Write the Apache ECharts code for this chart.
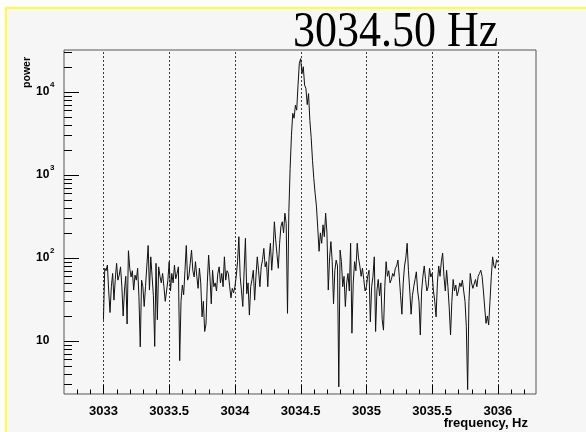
<!DOCTYPE html>
<html>
<head>
<meta charset="utf-8">
<script src="https://cdn.jsdelivr.net/npm/echarts@6/dist/echarts.min.js"></script>
<style>
  html, body { margin: 0; padding: 0; background: #ffffff; }
  #chart { width: 586px; height: 432px; }
</style>
</head>
<body>
<div id="chart"></div>
<script>
// Spectrum bins: first bin frequency and bin width (Hz)
const freqStart = 3033.0;
const freqStep = 0.01;

// Power per bin, 3033.00 .. 3036.00 Hz
const power = [
  18, 75, 70, 82, 40, 22, 45, 65, 31, 55,
  86, 54, 62, 78, 45, 20, 41, 60, 16, 122,
  75, 59, 70, 41, 62, 54, 75, 34, 8.5, 54,
  45, 26, 45, 80, 141, 41, 103, 60, 35, 8.6,
  86, 18, 78, 60, 50, 65, 45, 30, 40, 54,
  90, 40, 65, 50, 82, 56, 65, 78, 5.8, 30,
  47, 36, 70, 141, 54, 60, 86, 124, 70, 59,
  90, 60, 43, 75, 50, 19.5, 30, 13, 16, 50,
  108, 60, 28, 71, 45, 50, 40, 65, 78, 50,
  65, 45, 103, 54, 70, 65, 45, 33, 43, 38,
  45, 60, 90, 180, 60, 40, 26, 70, 172, 37,
  50, 20.5, 45, 55, 71, 31, 60, 103, 70, 45,
  78, 95, 130, 78, 90, 45, 100, 150, 71, 120,
  272, 165, 110, 75, 150, 240, 272, 200, 345, 260,
  21.5, 350, 1200, 3000, 5500, 4800, 6900, 6000, 12000, 22000,
  25000, 16500, 20000, 12000, 11000, 7000, 9500, 4500, 2800, 1500,
  900, 600, 420, 230, 120, 200, 150, 250, 180, 345,
  200, 41, 100, 157, 90, 28, 70, 94, 80, 2.8,
  124, 90, 45, 60, 26, 50, 65, 40, 150, 12.4,
  50, 90, 70, 150, 100, 80, 60, 75, 55, 40,
  45, 60, 71, 17, 45, 60, 103, 13, 40, 55,
  35, 50, 18, 13.5, 45, 90, 60, 70, 50, 55,
  65, 60, 75, 80, 94, 60, 35, 21, 50, 80,
  100, 150, 70, 40, 21, 35, 45, 55, 68, 40,
  30, 11.8, 40, 60, 80, 55, 40, 45, 75, 59,
  65, 40, 30, 19.5, 50, 80, 60, 90, 114, 60,
  40, 71, 45, 25, 11.8, 30, 55, 40, 47, 35,
  40, 50, 45, 54, 40, 30, 15, 2.6, 30, 65,
  50, 43, 45, 55, 45, 60, 65, 71, 60, 40,
  25, 16.3, 20, 15.6, 30, 60, 103, 80, 75, 95,
  88
];

// Axis ticks and labels
const xMajorTicks = [3033, 3033.5, 3034, 3034.5, 3035, 3035.5, 3036];
const xTickLabels = ['3033', '3033.5', '3034', '3034.5', '3035', '3035.5', '3036'];
const yDecades = [10, 100, 1000, 10000];
const yTickMantissa = ['10', '10', '10', '10'];
const yTickExponent = ['', '2', '3', '4'];

const titleText = '3034.50 Hz';
const xTitle = 'frequency, Hz';
const yTitle = 'power';

// Visible frame range
const X_MIN = 3032.7, X_MAX = 3036.29;
const Y_MIN = 2.3, Y_MAX = 31800;

const tickFont = 'bold 13px "Liberation Sans", Arial, sans-serif';
const crisp = v => Math.round(v) + 0.5;

// minor tick positions: every 0.1 Hz on x, 2..9 x 10^n on y
const xMinorTicks = [];
for (let k = 1; k <= 35; k++) {
  const v = +(X_MIN + k * 0.1).toFixed(1);
  if (xMajorTicks.indexOf(v) < 0 && v < X_MAX) xMinorTicks.push(v);
}
const yMinorTicks = [];
for (let n = 0; n <= 4; n++) {
  for (let k = 2; k <= 9; k++) {
    const v = k * Math.pow(10, n);
    if (v > Y_MIN && v < Y_MAX) yMinorTicks.push(v);
  }
}

const lineData = power.map((v, i) => [+(freqStart + i * freqStep).toFixed(2), v]);

const chart = echarts.init(document.getElementById('chart'), null, { renderer: 'canvas' });

chart.setOption({
  animation: false,
  backgroundColor: '#f6f6f6',
  grid: {
    left: 64, right: 50, top: 50, bottom: 38,
    show: true, borderColor: '#555555', borderWidth: 1, backgroundColor: 'transparent'
  },
  xAxis: { type: 'value', min: X_MIN, max: X_MAX, show: false },
  yAxis: { type: 'log', logBase: 10, min: Y_MIN, max: Y_MAX, show: false },
  graphic: [
    { type: 'rect', shape: { x: 0, y: 0, width: 586, height: 7 }, style: { fill: '#ffffff' }, silent: true },
    { type: 'rect', shape: { x: 0, y: 0, width: 5, height: 432 }, style: { fill: '#ffffff' }, silent: true },
    { type: 'rect', shape: { x: 5, y: 7, width: 581, height: 2 }, style: { fill: '#ffff33' }, silent: true },
    { type: 'rect', shape: { x: 5, y: 7, width: 2, height: 425 }, style: { fill: '#ffff33' }, silent: true },
    {
      type: 'text', x: 293, y: 33, scaleX: 0.88, silent: true,
      style: { text: titleText, font: '50px "Liberation Serif", "Times New Roman", serif',
               fill: '#000000', textAlign: 'left', textVerticalAlign: 'middle' }
    },
    {
      type: 'text', x: 528, y: 423.5, silent: true,
      style: { text: xTitle, font: 'bold 13px "Liberation Sans", Arial, sans-serif',
               fill: '#000000', textAlign: 'right', textVerticalAlign: 'middle' }
    },
    {
      type: 'text', x: 27.5, y: 57, rotation: Math.PI / 2, silent: true,
      style: { text: yTitle, font: 'bold 10.5px "Liberation Sans", Arial, sans-serif',
               fill: '#000000', textAlign: 'right', textVerticalAlign: 'middle' }
    }
  ],
  series: [
    {
      // dashed vertical grid at major x ticks
      type: 'custom', coordinateSystem: 'cartesian2d', silent: true, clip: false, z: 1,
      data: xMajorTicks.map(v => [v, Y_MIN]),
      renderItem: (params, api) => {
        const b = api.coord([api.value(0), Y_MIN]);
        const t = api.coord([api.value(0), Y_MAX]);
        const x = crisp(b[0]);
        return { type: 'line', shape: { x1: x, y1: b[1], x2: x, y2: t[1] },
                 style: { stroke: '#3a3a3a', lineWidth: 1, lineDash: [2, 2] } };
      }
    },
    {
      type: 'line', data: lineData, showSymbol: false, symbol: 'none', z: 3,
      lineStyle: { color: '#111111', width: 1 }, silent: true
    },
    {
      // x ticks along the bottom of the frame
      type: 'custom', coordinateSystem: 'cartesian2d', silent: true, clip: false, z: 4,
      data: xMajorTicks.map(v => [v, Y_MIN, 9]).concat(xMinorTicks.map(v => [v, Y_MIN, 4.5])),
      renderItem: (params, api) => {
        const p = api.coord([api.value(0), Y_MIN]);
        const x = crisp(p[0]);
        return { type: 'line', shape: { x1: x, y1: p[1], x2: x, y2: p[1] - api.value(2) },
                 style: { stroke: '#000000', lineWidth: 1 } };
      }
    },
    {
      // y ticks along the left side of the frame
      type: 'custom', coordinateSystem: 'cartesian2d', silent: true, clip: false, z: 4,
      data: yDecades.map(v => [X_MIN, v, 15]).concat(yMinorTicks.map(v => [X_MIN, v, 8])),
      renderItem: (params, api) => {
        const p = api.coord([X_MIN, api.value(1)]);
        const y = crisp(p[1]);
        return { type: 'line', shape: { x1: p[0], y1: y, x2: p[0] + api.value(2), y2: y },
                 style: { stroke: '#000000', lineWidth: 1 } };
      }
    },
    {
      // x tick labels
      type: 'custom', coordinateSystem: 'cartesian2d', silent: true, clip: false, z: 4,
      data: xMajorTicks.map((v, i) => [v, Y_MIN, i]),
      renderItem: (params, api) => {
        const p = api.coord([api.value(0), Y_MIN]);
        return { type: 'text', style: { text: xTickLabels[api.value(2)], x: p[0], y: p[1] + 17,
                 font: tickFont, fill: '#000000', align: 'center', verticalAlign: 'middle' } };
      }
    },
    {
      // y tick labels: mantissa with superscript exponent
      type: 'custom', coordinateSystem: 'cartesian2d', silent: true, clip: false, z: 4,
      data: yDecades.map((v, i) => [X_MIN, v, i]),
      renderItem: (params, api) => {
        const p = api.coord([X_MIN, api.value(1)]);
        const i = api.value(2);
        const children = [{
          type: 'text', style: { text: yTickMantissa[i], x: 36, y: p[1],
            font: 'bold 12px "Liberation Sans", Arial, sans-serif', fill: '#000000',
            align: 'left', verticalAlign: 'middle' }
        }];
        if (yTickExponent[i]) {
          children.push({
            type: 'text', style: { text: yTickExponent[i], x: 50, y: p[1] - 7,
              font: 'bold 8px "Liberation Sans", Arial, sans-serif', fill: '#000000',
              align: 'left', verticalAlign: 'middle' }
          });
        }
        return { type: 'group', children: children };
      }
    }
  ]
});
</script>
</body>
</html>
